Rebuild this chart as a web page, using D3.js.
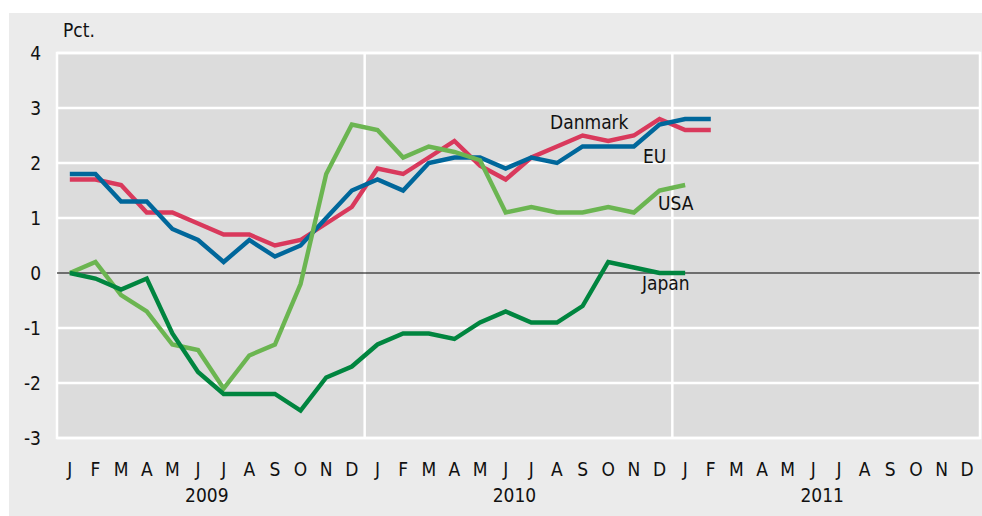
<!DOCTYPE html>
<html>
<head>
<meta charset="utf-8">
<script src="https://cdn.jsdelivr.net/npm/d3@7"></script>
<style>
  body { margin: 0; background: #fff; }
  svg text { font-family: "DejaVu Sans Condensed", "DejaVu Sans", sans-serif; font-stretch: condensed; }
</style>
</head>
<body>
<div id="chart"></div>
<script>
// Data (monthly, from Jan 2009)
const years = ["2009", "2010", "2011"];
const monthLetters = ["J", "F", "M", "A", "M", "J", "J", "A", "S", "O", "N", "D"];
const yTicks = [-3, -2, -1, 0, 1, 2, 3, 4];

const danmark = [1.7, 1.7, 1.6, 1.1, 1.1, 0.9, 0.7, 0.7, 0.5, 0.6, 0.9, 1.2,
                 1.9, 1.8, 2.1, 2.4, 1.95, 1.7, 2.1, 2.3, 2.5, 2.4, 2.5, 2.8,
                 2.6, 2.6];
const eu = [1.8, 1.8, 1.3, 1.3, 0.8, 0.6, 0.2, 0.6, 0.3, 0.5, 1.0, 1.5,
            1.7, 1.5, 2.0, 2.1, 2.1, 1.9, 2.1, 2.0, 2.3, 2.3, 2.3, 2.7,
            2.8, 2.8];
const usa = [0.0, 0.2, -0.4, -0.7, -1.3, -1.4, -2.1, -1.5, -1.3, -0.2, 1.8, 2.7,
             2.6, 2.1, 2.3, 2.2, 2.05, 1.1, 1.2, 1.1, 1.1, 1.2, 1.1, 1.5,
             1.6];
const japan = [0.0, -0.1, -0.3, -0.1, -1.1, -1.8, -2.2, -2.2, -2.2, -2.5, -1.9, -1.7,
               -1.3, -1.1, -1.1, -1.2, -0.9, -0.7, -0.9, -0.9, -0.6, 0.2, 0.1, 0.0,
               0.0];

const series = [
  { name: "Danmark", values: danmark, color: "#d9395c", lx: 550, ly: 129 },
  { name: "EU", values: eu, color: "#00679b", lx: 643, ly: 163 },
  { name: "USA", values: usa, color: "#6bb551", lx: 658, ly: 210 },
  { name: "Japan", values: japan, color: "#00853f", lx: 642, ly: 290 }
];

const W = 982, H = 516;
const margin = { top: 53, right: 2, bottom: 78, left: 57 };
const fontSize = "19px";

const svg = d3.select("#chart")
  .append("svg")
  .attr("width", W)
  .attr("height", H);

// outer grey panel
svg.append("rect")
  .attr("x", 9).attr("y", 13)
  .attr("width", W - 9).attr("height", H - 13)
  .attr("fill", "#ebebeb");

const months = d3.range(years.length * 12);
const x = d3.scaleBand()
  .domain(months)
  .range([margin.left, W - margin.right]);
const cx = i => x(i) + x.bandwidth() / 2;

const y = d3.scaleLinear()
  .domain([-3, 4])
  .range([H - margin.bottom, margin.top]);

// plot background
svg.append("rect")
  .attr("x", margin.left).attr("y", margin.top)
  .attr("width", W - margin.right - margin.left)
  .attr("height", y(-3) - y(4))
  .attr("fill", "#dcdcdc")
  .attr("stroke", "#fff")
  .attr("stroke-width", 2.5);

// horizontal grid
svg.append("g")
  .selectAll("line")
  .data(yTicks.filter(d => d !== 0))
  .join("line")
  .attr("x1", margin.left).attr("x2", W - margin.right)
  .attr("y1", d => y(d)).attr("y2", d => y(d))
  .attr("stroke", "#fff")
  .attr("stroke-width", 2.5);

// year separators
svg.append("g")
  .selectAll("line")
  .data([12, 24])
  .join("line")
  .attr("x1", d => x(d)).attr("x2", d => x(d))
  .attr("y1", y(4)).attr("y2", y(-3))
  .attr("stroke", "#fff")
  .attr("stroke-width", 2.5);

// zero line
svg.append("line")
  .attr("x1", margin.left).attr("x2", W - margin.right)
  .attr("y1", y(0)).attr("y2", y(0))
  .attr("stroke", "#000")
  .attr("stroke-width", 1);

// y axis
const yAxis = svg.append("g")
  .attr("transform", `translate(${margin.left - 16},0)`)
  .call(d3.axisLeft(y).tickValues(yTicks).tickSize(0).tickPadding(0)
    .tickFormat(d => String(d)));
yAxis.select(".domain").remove();
yAxis.selectAll("text")
  .attr("font-size", fontSize)
  .attr("fill", "#111");

svg.append("text")
  .attr("x", 63).attr("y", 37)
  .attr("font-size", fontSize)
  .attr("fill", "#111")
  .text("Pct.");

// x axis: month letters
const xAxis = svg.append("g")
  .attr("transform", `translate(0,${y(-3)})`)
  .call(d3.axisBottom(x).tickSize(0).tickPadding(25)
    .tickFormat(i => monthLetters[i % 12]));
xAxis.select(".domain").remove();
xAxis.selectAll("text")
  .attr("font-size", fontSize)
  .attr("fill", "#111");

// year labels
svg.append("g")
  .selectAll("text")
  .data(years)
  .join("text")
  .attr("x", (d, i) => (x(i * 12) + x(i * 12 + 11) + x.bandwidth()) / 2 - 4)
  .attr("y", 502)
  .attr("text-anchor", "middle")
  .attr("font-size", fontSize)
  .attr("fill", "#111")
  .text(d => d);

// lines
const line = d3.line()
  .x((d, i) => cx(i))
  .y(d => y(d));

svg.append("g")
  .selectAll("path")
  .data(series)
  .join("path")
  .attr("d", d => line(d.values))
  .attr("fill", "none")
  .attr("stroke", d => d.color)
  .attr("stroke-width", 4.4)
  .attr("stroke-linejoin", "miter");

// series labels
svg.append("g")
  .selectAll("text")
  .data(series)
  .join("text")
  .attr("x", d => d.lx)
  .attr("y", d => d.ly)
  .attr("font-size", fontSize)
  .attr("fill", "#111")
  .text(d => d.name);
</script>
</body>
</html>
